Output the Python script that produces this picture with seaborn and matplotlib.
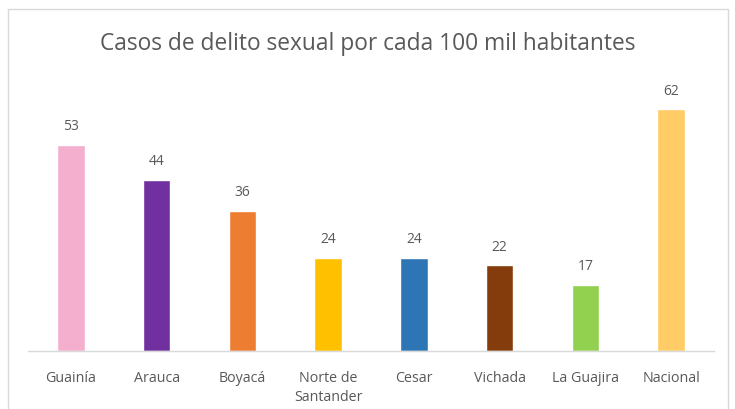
import matplotlib.pyplot as plt
import matplotlib.patches as mpatches
import pandas as pd
import seaborn as sns

categorias = ["Guainía", "Arauca", "Boyacá", "Norte de\nSantander", "Cesar",
              "Vichada", "La Guajira", "Nacional"]
casos = [53, 44, 36, 24, 24, 22, 17, 62]
colores = ["#F4AFCF", "#7030A0", "#ED7D31", "#FFC000", "#2E75B6",
           "#843C0C", "#92D050", "#FFCC66"]

df = pd.DataFrame({"categoria": categorias, "casos": casos})

sns.set_style("white")
plt.rcParams["font.family"] = ["Open Sans", "DejaVu Sans"]
gris = "#595959"

fig = plt.figure(figsize=(7.35, 4.10), dpi=100)
ax = fig.add_axes([28 / 735, 0.1415, 686 / 735, 0.665])

sns.barplot(data=df, x="categoria", y="casos", hue="categoria",
            palette=colores, width=0.32, legend=False, ax=ax, saturation=1)

for i, v in enumerate(casos):
    ax.text(i, v + 3, str(v), ha="center", va="bottom", fontsize=10, color=gris)

ax.set_ylim(0, 70)
ax.set_xlim(-0.5, len(categorias) - 0.5)
ax.set_yticks([])
ax.set_xlabel("")
ax.set_ylabel("")
ax.tick_params(axis="x", length=0, labelsize=10.3, labelcolor=gris, pad=14)
for lbl in ax.get_xticklabels():
    lbl.set_linespacing(1.3)
sns.despine(ax=ax, left=True)
ax.spines["bottom"].set_color("#d9d9d9")
ax.spines["bottom"].set_linewidth(1)

fig.text(0.5, 0.893, "Casos de delito sexual por cada 100 mil habitantes",
         ha="center", va="center", fontsize=16.4, color=gris)

borde = mpatches.Rectangle((8 / 735, -0.05), 720 / 735, 1 - 10 / 410 + 0.05,
                           transform=fig.transFigure, fill=False,
                           edgecolor="#d9d9d9", linewidth=1)
fig.patches.append(borde)

fig.savefig("out.png", dpi=100)
